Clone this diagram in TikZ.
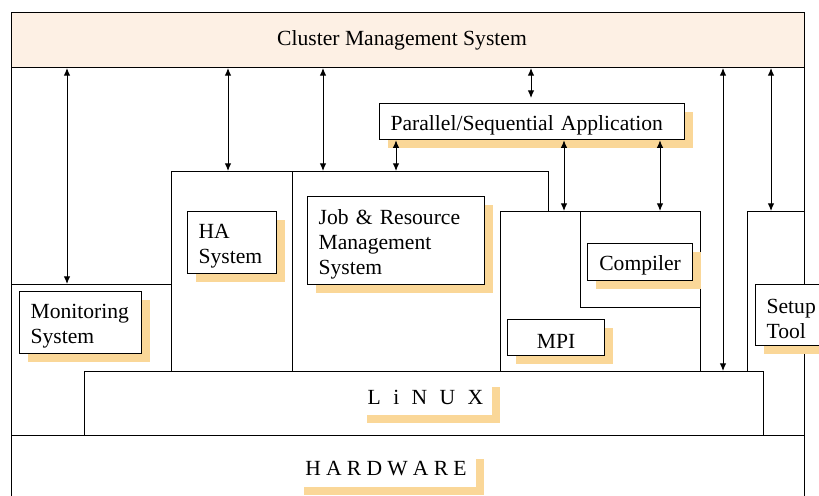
\documentclass[tikz,border=0pt]{standalone}
\usepackage{fontspec}
\setmainfont{Liberation Serif}
\usetikzlibrary{arrows.meta,shadows}

\definecolor{cmsfill}{RGB}{253,240,228}
\definecolor{shadowc}{RGB}{250,215,152}

\begin{document}
\begin{tikzpicture}[x=0.5pt,y=-0.5pt,
  every node/.style={font=\fontsize{10.8}{12.5}\selectfont},
  region/.style={draw,fill=white,line width=0.5pt,anchor=north west,inner sep=0pt},
  tbox/.style={draw,fill=white,line width=0.6pt,anchor=north west,inner xsep=5.5pt,inner ysep=0pt,
    align=left,execute at begin node={\rule{0pt}{10.8pt}},
    general shadow={fill=shadowc,shadow xshift=4pt,shadow yshift=-4pt}},
  lbl/.style={fill=white,inner sep=0pt,
    general shadow={fill=shadowc,shadow xshift=4pt,shadow yshift=-4pt}},
  dbl/.style={{Latex[length=3.8pt,width=3.2pt]}-{Latex[length=3.8pt,width=3.2pt]},line width=0.5pt}
]
\useasboundingbox (0,0) rectangle (819,495);
\clip (0,0) rectangle (819,495);

% the layers
\node[region,minimum width=396.5pt,minimum height=244pt] (frame) at (11,12) {};
\node[region,fill=cmsfill,minimum width=396.5pt,minimum height=27.5pt,
  label={[xshift=-3pt]center:Cluster Management System}] (cms) at (11,12) {};
\node[region,minimum width=80pt,minimum height=75.5pt] (monreg) at (11,284) {};
\node[region,minimum width=60.5pt,minimum height=100pt] (hareg) at (171,171) {};
\node[region,minimum width=128pt,minimum height=100pt] (jobreg) at (292,171) {};
\node[region,minimum width=100pt,minimum height=80pt] (mpireg) at (500,211) {};
\node[region,minimum width=60pt,minimum height=48pt] (cmpreg) at (580,211) {};
\node[region,minimum width=28.5pt,minimum height=112pt] (setreg) at (747,211) {};
\node[region,minimum width=339.5pt,minimum height=32pt] (linux) at (84,371) {};
\node[region,minimum width=396.5pt,minimum height=32.5pt] (hw) at (11,435) {};

% the components
\node[tbox,text width=141.5pt,minimum height=18pt] (app) at (379,103) {Parallel/Sequential Application};
\node[tbox,text width=50pt,minimum height=31pt] (mon) at (19,291) {Monitoring\\System};
\node[tbox,text width=33.5pt,minimum height=31pt] (ha) at (187,211) {HA\\System};
\node[tbox,text width=77.5pt,minimum height=44pt] (job) at (307,196) {Job \& Resource\\Management\\System};
\node[tbox,text width=41.5pt,minimum height=18.5pt,align=center] (cmp) at (587,243) {Compiler};
\node[tbox,text width=37.5pt,minimum height=18pt,align=center] (mpi) at (507,319) {MPI};
\node[tbox,text width=30pt,minimum height=30.5pt] (setup) at (755,284) {Setup\\Tool};
\node[lbl,minimum width=66.5pt,minimum height=18pt] (linuxlbl) at (425.5,397)
  {L\hspace{6.2pt}i\hspace{6.2pt}N\hspace{6.2pt}U\hspace{6.2pt}X};
\node[lbl,minimum width=90pt,minimum height=18pt] (hwlbl) at (386,469)
  {H\hspace{2.6pt}A\hspace{2.6pt}R\hspace{2.6pt}D\hspace{2.6pt}W\hspace{2.6pt}A\hspace{2.6pt}R\hspace{2.6pt}E};

% the arrows
\coordinate (ar1) at (67,0);
\coordinate (ar2) at (228,0);
\coordinate (ar3) at (323,0);
\coordinate (ar4) at (531,0);
\coordinate (ar5) at (396,0);
\coordinate (ar6) at (564,0);
\coordinate (ar7) at (660,0);
\coordinate (ar8) at (723,0);
\coordinate (ar9) at (771,0);
\draw[dbl] (cms.south -| ar1) -- (monreg.north -| ar1);
\draw[dbl] (cms.south -| ar2) -- (hareg.north -| ar2);
\draw[dbl] (cms.south -| ar3) -- (jobreg.north -| ar3);
\draw[dbl,shorten >=2.5pt] (cms.south -| ar4) -- (app.north -| ar4);
\draw[dbl] (app.south -| ar5) -- (jobreg.north -| ar5);
\draw[dbl] (app.south -| ar6) -- (mpireg.north -| ar6);
\draw[dbl] (app.south -| ar7) -- (cmpreg.north -| ar7);
\draw[dbl] (cms.south -| ar8) -- (linux.north -| ar8);
\draw[dbl] (cms.south -| ar9) -- (setreg.north -| ar9);

\end{tikzpicture}
\end{document}
